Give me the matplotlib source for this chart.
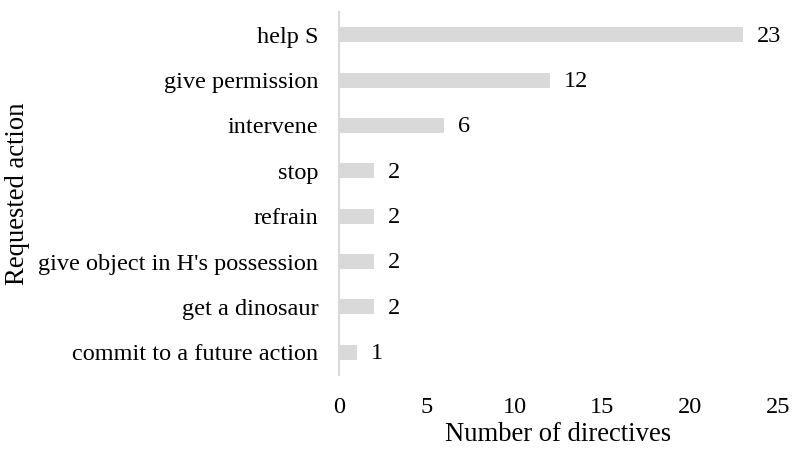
import matplotlib
matplotlib.use("Agg")
import matplotlib.pyplot as plt

categories = ["help S", "give permission", "intervene", "stop", "refrain",
              "give object in H's possession", "get a dinosaur", "commit to a future action"]
values = [23, 12, 6, 2, 2, 2, 2, 1]
xticks = [0, 5, 10, 15, 20, 25]

plt.rcParams['font.family'] = ['Liberation Serif', 'DejaVu Serif']

fig = plt.figure(figsize=(7.92, 4.5), dpi=100)
ax = fig.add_axes([339/792, 75/450, (778-339)/792, (375-12)/450])

y = list(range(len(categories)))
ax.barh(y, values, height=0.33, color="#d9d9d9")
for yi, v in zip(y, values):
    ax.text(v + 0.8, yi + 0.03, str(v), va="center", ha="left", fontsize=17.5)

ax.set_ylim(len(categories) - 0.5, -0.5)
ax.set_xlim(0, 25)
ax.set_yticks(y)
ax.set_yticklabels(categories, fontsize=17.5)
ax.set_xticks(xticks)
ax.set_xticklabels([str(t) for t in xticks], fontsize=17.5)
ax.tick_params(axis="both", length=0)
ax.tick_params(axis="y", pad=15)
ax.tick_params(axis="x", pad=16)
for s in ["top", "right", "bottom"]:
    ax.spines[s].set_visible(False)
ax.spines["left"].set_color("#d9d9d9")
ax.spines["left"].set_linewidth(1.5)
ax.set_xlabel("Number of directives", fontsize=19.2, labelpad=3)
ax.set_ylabel("Requested action", fontsize=19.2, labelpad=6)

fig.savefig("out.png", dpi=100)
